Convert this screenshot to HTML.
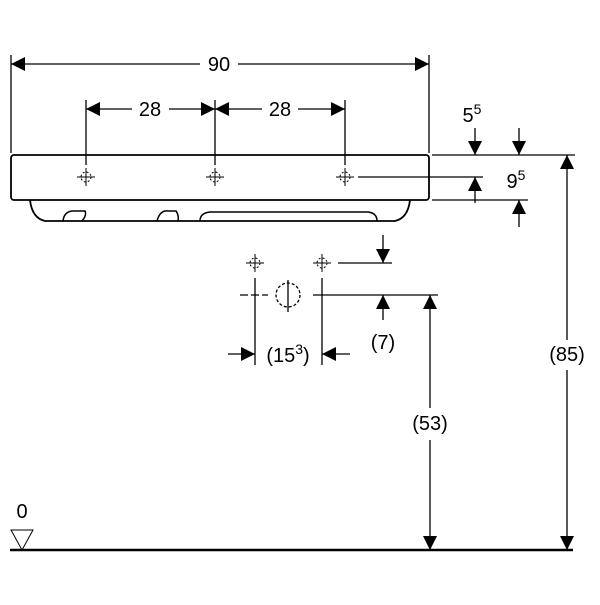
<!DOCTYPE html><html><head><style>body{margin:0;background:#fff}</style></head><body>
<svg width="600" height="600" viewBox="0 0 600 600" xmlns="http://www.w3.org/2000/svg" font-family="Liberation Sans, sans-serif" font-size="20" fill="#000">
<defs>
<marker id="a" viewBox="0 0 10 10" refX="10" refY="5" markerWidth="14" markerHeight="14" markerUnits="userSpaceOnUse" orient="auto-start-reverse"><path d="M0,0L10,5L0,10z"/></marker>
<g id="x" stroke="#000" stroke-width="1"><line x1="-9" y1="0" x2="9" y2="0"/><line x1="0" y1="-9" x2="0" y2="9"/><circle r="5" fill="none" stroke-dasharray="2 2"/></g>
</defs>
<g stroke="#000" stroke-width="1.3" fill="none">
<line x1="11" y1="55" x2="11" y2="153"/><line x1="429" y1="55" x2="429" y2="153"/>
<line x1="11" y1="64" x2="200" y2="64" marker-start="url(#a)"/><line x1="238" y1="64" x2="429" y2="64" marker-end="url(#a)"/>
<line x1="86" y1="100" x2="86" y2="165"/><line x1="215" y1="100" x2="215" y2="165"/><line x1="345" y1="100" x2="345" y2="165"/>
<line x1="86" y1="109" x2="132" y2="109" marker-start="url(#a)"/><line x1="169" y1="109" x2="215" y2="109" marker-end="url(#a)"/>
<line x1="215" y1="109" x2="262" y2="109" marker-start="url(#a)"/><line x1="298" y1="109" x2="345" y2="109" marker-end="url(#a)"/>
<rect x="11" y="155" width="418" height="45" rx="3" stroke-width="1.8"/>
<path d="M30,200 Q32,218 45,221 L395,221 Q408,218 410,200" stroke-width="1.8"/>
<path d="M63,221 Q64,212 72,211 L85,211 Q87,215 82,221 M157,221 Q160,210 168,211 L176,211 Q179,215 178,221 M200,221 Q200,213 210,212 L368,212 Q377,213 377,221" stroke-width="1.5"/>
<line x1="358" y1="177" x2="483" y2="177"/><line x1="432" y1="155" x2="575" y2="155"/><line x1="432" y1="200" x2="528" y2="200"/>
<line x1="475" y1="128" x2="475" y2="155" marker-end="url(#a)"/><line x1="519" y1="128" x2="519" y2="155" marker-end="url(#a)"/>
<line x1="475" y1="203" x2="475" y2="177" marker-end="url(#a)"/><line x1="519" y1="227" x2="519" y2="200" marker-end="url(#a)"/>
<line x1="567" y1="155" x2="567" y2="340" marker-start="url(#a)"/><line x1="567" y1="370" x2="567" y2="550" marker-end="url(#a)"/>
<line x1="338" y1="263" x2="392" y2="263"/><line x1="240" y1="295" x2="268" y2="295" stroke-dasharray="8 3"/><line x1="313" y1="295" x2="438" y2="295"/>
<line x1="383" y1="235" x2="383" y2="263" marker-end="url(#a)"/><line x1="383" y1="320" x2="383" y2="295" marker-end="url(#a)"/>
<line x1="255" y1="278" x2="255" y2="365"/><line x1="322" y1="278" x2="322" y2="365"/>
<line x1="228" y1="354" x2="255" y2="354" marker-end="url(#a)"/><line x1="350" y1="354" x2="322" y2="354" marker-end="url(#a)"/>
<line x1="430" y1="295" x2="430" y2="408" marker-start="url(#a)"/><line x1="430" y1="440" x2="430" y2="550" marker-end="url(#a)"/>
<line x1="10" y1="550" x2="573" y2="550" stroke-width="2.5"/>
<path d="M11,530L33,530L22,550z" stroke-width="1"/>
<line x1="288" y1="280" x2="288" y2="312"/><circle cx="288" cy="295" r="12" stroke-dasharray="3 2"/>
</g>
<use href="#x" x="86" y="177"/><use href="#x" x="215" y="177"/><use href="#x" x="345" y="177"/>
<use href="#x" x="255" y="263"/><use href="#x" x="322" y="263"/>
<g text-anchor="middle">
<text x="219" y="71">90</text><text x="150" y="116">28</text><text x="280" y="116">28</text>
<text x="472" y="122">5<tspan font-size="14" dy="-8">5</tspan></text>
<text x="516" y="188">9<tspan font-size="14" dy="-8">5</tspan></text>
<text x="567" y="361">(85)</text><text x="430" y="430">(53)</text><text x="383" y="349">(7)</text>
<text x="288" y="362">(15<tspan font-size="14" dy="-8">3</tspan><tspan dy="8">)</tspan></text>
<text x="22" y="518">0</text>
</g>
</svg></body></html>
